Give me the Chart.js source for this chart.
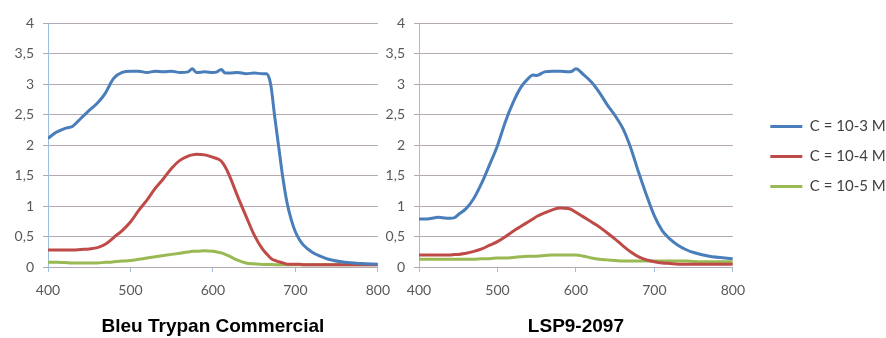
<!DOCTYPE html>
<html>
<head>
<meta charset="utf-8">
<script src="https://cdn.jsdelivr.net/npm/chart.js@4"></script>
<style>
html, body { margin: 0; padding: 0; background: #fff; }
#wrap { position: relative; width: 886px; height: 338px; overflow: hidden; }
canvas { position: absolute; }
#leftChart { left: 0; top: 0; }
#rightChart { left: 380px; top: 0; }
#legendChart { left: 765px; top: 104px; }
</style>
</head>
<body>
<div id="wrap">
  <canvas id="leftChart" width="400" height="338"></canvas>
  <canvas id="rightChart" width="375" height="338"></canvas>
  <canvas id="legendChart" width="126" height="260"></canvas>
</div>
<script>
const seriesNames = ["C = 10-3 M", "C = 10-4 M", "C = 10-5 M"];
const seriesColors = ["#4a7ebb", "#be4b48", "#98b954"];
const panelTitles = ["Bleu Trypan Commercial", "LSP9-2097"];

// Bleu Trypan Commercial
const trypanNm = [400,410,420,430,440,450,460,470,475,480,490,500,510,520,530,540,550,560,570,575,580,590,600,605,610,615,620,630,640,650,660,665,670,675,680,685,690,695,700,705,710,720,730,740,760,780,800];
const trypan3 = [2.11,2.21,2.27,2.31,2.44,2.57,2.69,2.86,2.99,3.1,3.19,3.21,3.21,3.19,3.21,3.2,3.21,3.19,3.2,3.25,3.19,3.2,3.19,3.2,3.24,3.18,3.18,3.19,3.17,3.18,3.17,3.17,3.0,2.46,1.95,1.45,1.05,0.78,0.58,0.45,0.36,0.25,0.18,0.13,0.08,0.06,0.05];
const trypan4 = [0.28,0.28,0.28,0.28,0.29,0.3,0.32,0.38,0.43,0.49,0.6,0.74,0.93,1.1,1.29,1.45,1.62,1.75,1.82,1.84,1.85,1.84,1.8,1.78,1.74,1.64,1.5,1.16,0.84,0.53,0.3,0.22,0.15,0.11,0.09,0.07,0.05,0.05,0.05,0.05,0.04,0.04,0.04,0.04,0.04,0.04,0.04];
const trypan5 = [0.08,0.08,0.075,0.07,0.07,0.07,0.07,0.08,0.08,0.09,0.1,0.11,0.13,0.15,0.17,0.19,0.21,0.23,0.25,0.26,0.26,0.27,0.26,0.25,0.235,0.21,0.18,0.115,0.07,0.055,0.045,0.045,0.045,0.04,0.04,0.04,0.04,0.04,0.04,0.04,0.04,0.04,0.04,0.04,0.04,0.04,0.04];

// LSP9-2097
const lspNm = [400,410,420,425,430,440,445,450,460,470,480,490,500,510,520,530,540,545,550,560,570,580,590,595,600,610,620,630,640,650,660,670,680,690,700,710,720,730,740,750,770,800];
const lsp3 = [0.79,0.79,0.81,0.82,0.81,0.8,0.81,0.86,0.96,1.13,1.38,1.68,1.99,2.38,2.7,2.95,3.1,3.15,3.14,3.2,3.21,3.21,3.2,3.21,3.25,3.15,3.03,2.86,2.66,2.48,2.27,1.95,1.55,1.18,0.84,0.6,0.46,0.36,0.29,0.24,0.18,0.14];
const lsp4 = [0.2,0.2,0.2,0.2,0.2,0.2,0.21,0.21,0.23,0.26,0.3,0.36,0.42,0.5,0.59,0.67,0.75,0.79,0.83,0.89,0.94,0.97,0.96,0.94,0.9,0.82,0.74,0.66,0.56,0.46,0.35,0.25,0.17,0.12,0.09,0.07,0.06,0.05,0.05,0.05,0.05,0.05];
const lsp5 = [0.13,0.13,0.13,0.13,0.13,0.13,0.13,0.13,0.13,0.13,0.14,0.14,0.15,0.15,0.16,0.17,0.18,0.18,0.18,0.19,0.2,0.2,0.2,0.2,0.2,0.18,0.15,0.13,0.12,0.11,0.1,0.1,0.1,0.1,0.1,0.1,0.1,0.1,0.1,0.095,0.09,0.09];

const xTicks = [400, 500, 600, 700, 800];
const gridColor = "#b4a8b2";
const axisColor = "#9cbde0";
const tickFont = { family: "Lato", size: 14 };

function makeDatasets(nm, series) {
    return series.map((vals, i) => ({
        label: seriesNames[i],
        data: nm ? nm.map((x, j) => ({ x: x, y: vals[j] })) : [],
        borderColor: seriesColors[i],
        backgroundColor: seriesColors[i],
        borderWidth: 3,
        pointRadius: 0,
        fill: false,
        cubicInterpolationMode: "monotone"
    }));
}

function makeScales(yWidth) {
    return {
        x: {
            type: "linear",
            min: 400,
            max: 800,
            afterBuildTicks: (scale) => { scale.ticks = xTicks.map(v => ({ value: v })); },
            afterFit: (scale) => { scale.height = 29; },
            ticks: { color: "#595959", font: tickFont, padding: 10, maxRotation: 0 },
            grid: { drawOnChartArea: false, drawTicks: true, tickLength: 5, color: axisColor },
            border: { display: true, color: gridColor }
        },
        y: {
            min: 0,
            max: 4,
            afterFit: (scale) => { scale.width = yWidth; },
            ticks: {
                stepSize: 0.5,
                color: "#595959",
                font: tickFont,
                padding: 9,
                callback: (v) => String(v).replace(".", ",")
            },
            grid: { color: gridColor, tickLength: 5, drawTicks: true },
            border: { display: true, color: axisColor }
        }
    };
}

function makeTitle(text) {
    return {
        display: true,
        text: text,
        position: "bottom",
        fullSize: false,
        color: "#000",
        font: { family: "Liberation Sans", weight: "bold", size: 19 },
        padding: { top: 19, bottom: 0 }
    };
}

new Chart(document.getElementById("leftChart"), {
    type: "line",
    data: { datasets: makeDatasets(trypanNm, [trypan3, trypan4, trypan5]) },
    options: {
        responsive: false,
        animation: false,
        layout: { padding: { top: 23, right: 22, bottom: 0, left: 0 } },
        scales: makeScales(48),
        plugins: {
            legend: { display: false },
            tooltip: { enabled: false },
            title: makeTitle(panelTitles[0])
        }
    }
});

new Chart(document.getElementById("rightChart"), {
    type: "line",
    data: { datasets: makeDatasets(lspNm, [lsp3, lsp4, lsp5]) },
    options: {
        responsive: false,
        animation: false,
        layout: { padding: { top: 23, right: 22, bottom: 0, left: 0 } },
        scales: makeScales(39),
        plugins: {
            legend: { display: false },
            tooltip: { enabled: false },
            title: makeTitle(panelTitles[1])
        }
    }
});

// legend only: same series, no marks
new Chart(document.getElementById("legendChart"), {
    type: "line",
    data: { datasets: makeDatasets(null, [[], [], []]) },
    options: {
        responsive: false,
        animation: false,
        layout: { padding: 0 },
        scales: { x: { display: false }, y: { display: false } },
        plugins: {
            tooltip: { enabled: false },
            legend: {
                display: true,
                position: "top",
                labels: {
                    usePointStyle: true,
                    pointStyle: "line",
                    pointStyleWidth: 32,
                    boxHeight: 15,
                    padding: 15,
                    color: "#404040",
                    font: { family: "Lato", size: 15 }
                }
            }
        }
    }
});
</script>
</body>
</html>
